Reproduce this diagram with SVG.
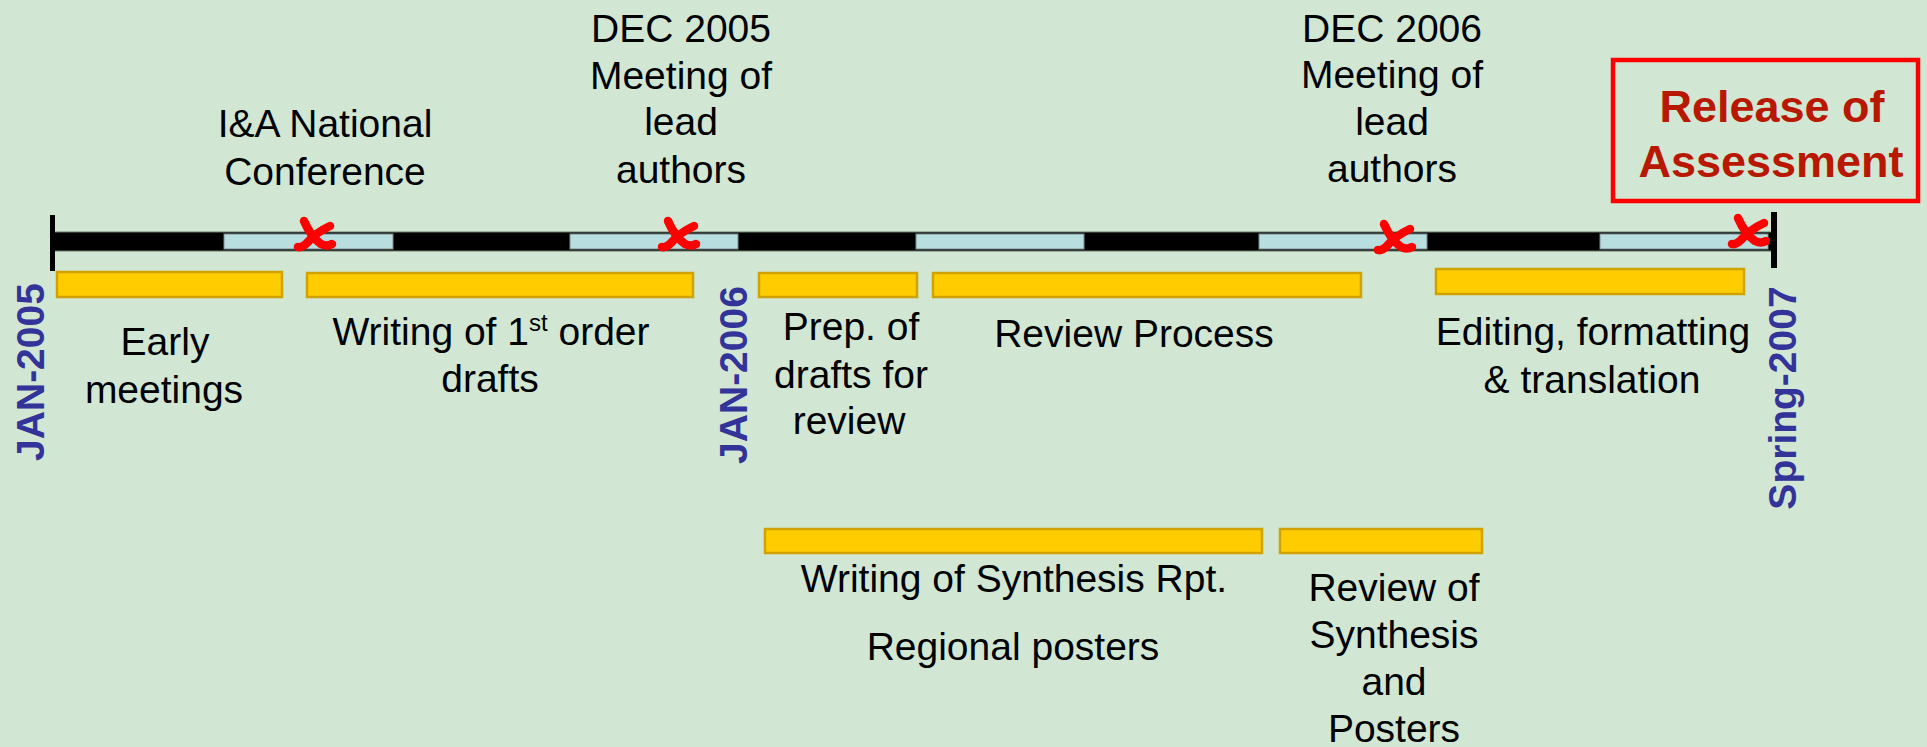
<svg xmlns="http://www.w3.org/2000/svg" width="1927" height="747" viewBox="0 0 1927 747">
<style>
.lbl{font-family:"Liberation Sans",Arial,sans-serif;font-size:39px;fill:#000;text-anchor:middle}
.date{font-family:"Liberation Sans",Arial,sans-serif;font-size:39px;font-weight:bold;fill:#333399;text-anchor:middle}
.rel{font-family:"Liberation Sans",Arial,sans-serif;font-size:45px;font-weight:bold;fill:#B81800;text-anchor:middle}
.task{fill:#FFCC00;stroke:#CFA200;stroke-width:2.5}
.seg{fill:#B8DEE0;stroke:#7A8C8C;stroke-width:1}
.mark{fill:none;stroke:#FF0000;stroke-width:8.5;stroke-linecap:round}
.tick{fill:#000}
</style>
<defs>
  <g id="xmark">
    <path class="mark" d="M-11,-14 Q-4,2 6,9 Q12,12 17,9"/>
    <path class="mark" d="M15,-9 Q0,-2 -8,8 Q-13,13 -17,12"/>
  </g>
</defs>
<rect x="0" y="0" width="1927" height="747" fill="#D1E7D3"/>

<g id="timeline">
  <rect x="52" y="232" width="1720" height="19" fill="#000" stroke="#6A7A6A" stroke-width="1"/>
  <rect class="seg" x="224" y="234" width="169" height="15"/>
  <rect class="seg" x="570" y="234" width="168" height="15"/>
  <rect class="seg" x="916" y="234" width="168" height="15"/>
  <rect class="seg" x="1259" y="234" width="168" height="15"/>
  <rect class="seg" x="1600" y="234" width="168" height="15"/>
  <rect class="tick" x="50" y="215" width="5" height="56"/>
  <rect class="tick" x="1771" y="212" width="6" height="56"/>
</g>

<g id="marks">
  <use href="#xmark" x="315" y="235"/>
  <use href="#xmark" x="679" y="235"/>
  <use href="#xmark" x="1395" y="238"/>
  <use href="#xmark" x="1749" y="232"/>
</g>

<g id="dates">
  <text class="date" transform="translate(44,372) rotate(-90)">JAN-2005</text>
  <text class="date" transform="translate(747,375) rotate(-90)">JAN-2006</text>
  <text class="date" transform="translate(1796,398) rotate(-90)">Spring-2007</text>
</g>

<g id="event-conference">
  <text class="lbl" x="325" y="137">I&amp;A National</text>
  <text class="lbl" x="325" y="185">Conference</text>
</g>
<g id="event-dec2005">
  <text class="lbl" x="681" y="42">DEC 2005</text>
  <text class="lbl" x="681" y="89">Meeting of</text>
  <text class="lbl" x="681" y="135">lead</text>
  <text class="lbl" x="681" y="183">authors</text>
</g>
<g id="event-dec2006">
  <text class="lbl" x="1392" y="42">DEC 2006</text>
  <text class="lbl" x="1392" y="88">Meeting of</text>
  <text class="lbl" x="1392" y="135">lead</text>
  <text class="lbl" x="1392" y="182">authors</text>
</g>
<g id="release">
  <rect x="1613" y="60" width="305" height="141" fill="none" stroke="#FF0000" stroke-width="4.5"/>
  <text class="rel" x="1772" y="122">Release of</text>
  <text class="rel" x="1771" y="177">Assessment</text>
</g>

<g id="task-early">
  <rect class="task" x="57" y="272" width="225" height="25"/>
  <text class="lbl" x="165" y="355">Early</text>
  <text class="lbl" x="164" y="403">meetings</text>
</g>
<g id="task-writing">
  <rect class="task" x="307" y="273" width="386" height="24"/>
  <text class="lbl" x="491" y="345">Writing of 1<tspan font-size="24" dy="-14">st</tspan><tspan dy="14"> order</tspan></text>
  <text class="lbl" x="490" y="392">drafts</text>
</g>
<g id="task-prep">
  <rect class="task" x="759" y="273" width="158" height="24"/>
  <text class="lbl" x="851" y="340">Prep. of</text>
  <text class="lbl" x="851" y="388">drafts for</text>
  <text class="lbl" x="849" y="434">review</text>
</g>
<g id="task-review">
  <rect class="task" x="933" y="273" width="428" height="24"/>
  <text class="lbl" x="1134" y="347">Review Process</text>
</g>
<g id="task-editing">
  <rect class="task" x="1436" y="269" width="308" height="25"/>
  <text class="lbl" x="1593" y="345">Editing, formatting</text>
  <text class="lbl" x="1592" y="393">&amp; translation</text>
</g>
<g id="task-synthesis">
  <rect class="task" x="765" y="529" width="497" height="24"/>
  <text class="lbl" x="1014" y="592">Writing of Synthesis Rpt.</text>
  <text class="lbl" x="1013" y="660">Regional posters</text>
</g>
<g id="task-review-synthesis">
  <rect class="task" x="1280" y="529" width="202" height="24"/>
  <text class="lbl" x="1394" y="601">Review of</text>
  <text class="lbl" x="1394" y="648">Synthesis</text>
  <text class="lbl" x="1394" y="695">and</text>
  <text class="lbl" x="1394" y="742">Posters</text>
</g>
</svg>
